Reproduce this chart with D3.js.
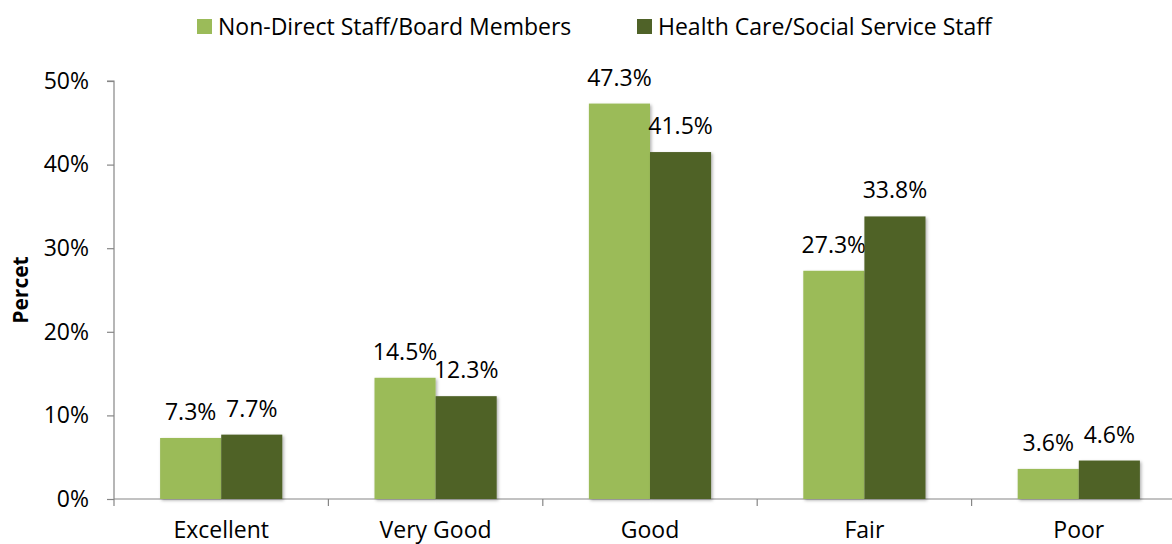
<!DOCTYPE html>
<html><head><meta charset="utf-8">
<script src="https://cdn.jsdelivr.net/npm/d3@7"></script>
<style>body{margin:0;background:#fff}svg{display:block}text{font-family:"Open Sans",sans-serif;fill:#000}</style>
</head><body><svg id="c" width="1172" height="544"></svg>
<script>
const categories = ["Excellent","Very Good","Good","Fair","Poor"];
const seriesNames = ["Non-Direct Staff/Board Members","Health Care/Social Service Staff"];
const nonDirect = [7.3,14.5,47.3,27.3,3.6];
const healthCare = [7.7,12.3,41.5,33.8,4.6];
const yTicks = [0,10,20,30,40,50];
const colors = ["#9BBB59","#4F6228"];

(function(){
const FS = "23px";
const svg = d3.select("#c");
const pL = 114, pR = 1186, pT = 81, pB = 499;
const x = d3.scaleBand().domain(categories).range([pL,pR]).paddingInner(0.43).paddingOuter(0.215);
const xs = d3.scaleBand().domain([0,1]).range([0,x.bandwidth()]);
const y = d3.scaleLinear().domain([0,50]).range([pB,pT]);

const defs = svg.append("defs");
const f = defs.append("filter").attr("id","sh").attr("x","-10%").attr("y","-10%").attr("width","130%").attr("height","130%");
f.append("feDropShadow").attr("dx",1.5).attr("dy",1.5).attr("stdDeviation",1.5).attr("flood-color","#000").attr("flood-opacity",0.3);

const ya = svg.append("g").attr("transform",`translate(${pL},0)`)
  .call(d3.axisLeft(y).tickValues(yTicks).tickFormat(d=>d+"%").tickSize(7).tickPadding(18));
ya.select(".domain").attr("stroke","#868686").attr("stroke-width",1.2).attr("d",`M-7,${pT}H0V${pB}`);
ya.selectAll(".tick line").attr("stroke","#868686").attr("stroke-width",1.2);
ya.selectAll(".tick text").style("font-size",FS).attr("fill","#000");

svg.append("line").attr("x1",pL).attr("x2",1172).attr("y1",pB).attr("y2",pB).attr("stroke","#868686").attr("stroke-width",1.2);
const step = x.step();
svg.selectAll(".xt").data(d3.range(categories.length)).join("line")
  .attr("x1",i=>pL+i*step).attr("x2",i=>pL+i*step).attr("y1",pB).attr("y2",pB+7)
  .attr("stroke","#868686").attr("stroke-width",1.2);
svg.selectAll(".xl").data(categories).join("text")
  .attr("x",d=>x(d)+x.bandwidth()/2).attr("y",538).attr("text-anchor","middle").style("font-size",FS).text(d=>d);

const series = [nonDirect, healthCare];
series.forEach((vals,si)=>{
  const g = svg.append("g");
  g.selectAll("rect").data(vals).join("rect")
    .attr("x",(d,i)=>x(categories[i])+xs(si)).attr("width",xs.bandwidth())
    .attr("y",d=>y(d)).attr("height",d=>pB-y(d)).attr("fill",colors[si]).attr("filter","url(#sh)");
  g.selectAll("text").data(vals).join("text")
    .attr("x",(d,i)=>x(categories[i])+xs(si)+xs.bandwidth()/2).attr("y",d=>y(d)-18)
    .attr("text-anchor","middle").style("font-size",FS).text(d=>d.toFixed(1)+"%");
});

svg.append("text").attr("transform","translate(28,290) rotate(-90)").attr("text-anchor","middle")
  .style("font-size","21px").style("font-weight","bold").text("Percet");

const leg = [{x:197,t:seriesNames[0],c:colors[0]},{x:637,t:seriesNames[1],c:colors[1]}];
leg.forEach(l=>{
  svg.append("rect").attr("x",l.x).attr("y",19).attr("width",15).attr("height",15).attr("fill",l.c);
  svg.append("text").attr("x",l.x+21).attr("y",35).style("font-size",FS).text(l.t);
});
})();
</script></body></html>
